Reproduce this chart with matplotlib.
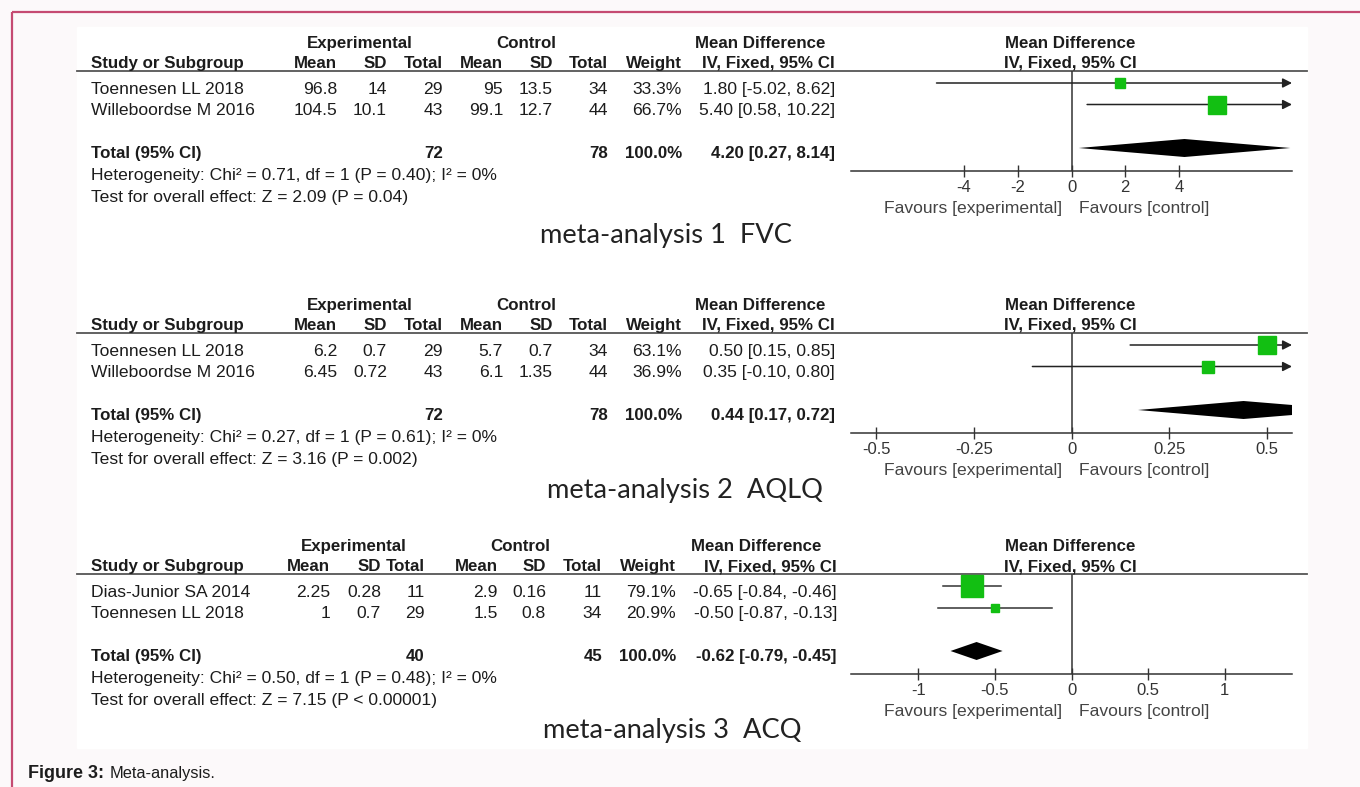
import matplotlib
matplotlib.use("Agg")
import matplotlib.pyplot as plt
from matplotlib.patches import Rectangle

plt.rcParams['axes.unicode_minus'] = False
plt.rcParams['font.family'] = ['Liberation Sans', 'DejaVu Sans']

# ---------------- data ----------------
titles = ["meta-analysis 1  FVC", "meta-analysis 2  AQLQ", "meta-analysis 3  ACQ"]

studies_1 = ["Toennesen LL 2018", "Willeboordse M 2016"]
exp_mean_1 = [96.8, 104.5]
exp_sd_1 = [14, 10.1]
exp_n_1 = [29, 43]
ctl_mean_1 = [95, 99.1]
ctl_sd_1 = [13.5, 12.7]
ctl_n_1 = [34, 44]
weight_1 = [33.3, 66.7]
md_1 = [1.80, 5.40]
lo_1 = [-5.02, 0.58]
hi_1 = [8.62, 10.22]
total_n_1 = [72, 78]
total_md_1 = [4.20, 0.27, 8.14]
het_1 = "Heterogeneity: Chi\u00b2 = 0.71, df = 1 (P = 0.40); I\u00b2 = 0%"
test_1 = "Test for overall effect: Z = 2.09 (P = 0.04)"
ticks_1 = [-4, -2, 0, 2, 4]
ticklabels_1 = ["-4", "-2", "0", "2", "4"]

studies_2 = ["Toennesen LL 2018", "Willeboordse M 2016"]
exp_mean_2 = [6.2, 6.45]
exp_sd_2 = [0.7, 0.72]
exp_n_2 = [29, 43]
ctl_mean_2 = [5.7, 6.1]
ctl_sd_2 = [0.7, 1.35]
ctl_n_2 = [34, 44]
weight_2 = [63.1, 36.9]
md_2 = [0.50, 0.35]
lo_2 = [0.15, -0.10]
hi_2 = [0.85, 0.80]
total_n_2 = [72, 78]
total_md_2 = [0.44, 0.17, 0.72]
het_2 = "Heterogeneity: Chi\u00b2 = 0.27, df = 1 (P = 0.61); I\u00b2 = 0%"
test_2 = "Test for overall effect: Z = 3.16 (P = 0.002)"
ticks_2 = [-0.5, -0.25, 0, 0.25, 0.5]
ticklabels_2 = ["-0.5", "-0.25", "0", "0.25", "0.5"]

studies_3 = ["Dias-Junior SA 2014", "Toennesen LL 2018"]
exp_mean_3 = [2.25, 1]
exp_sd_3 = [0.28, 0.7]
exp_n_3 = [11, 29]
ctl_mean_3 = [2.9, 1.5]
ctl_sd_3 = [0.16, 0.8]
ctl_n_3 = [11, 34]
weight_3 = [79.1, 20.9]
md_3 = [-0.65, -0.50]
lo_3 = [-0.84, -0.87]
hi_3 = [-0.46, -0.13]
total_n_3 = [40, 45]
total_md_3 = [-0.62, -0.79, -0.45]
het_3 = "Heterogeneity: Chi\u00b2 = 0.50, df = 1 (P = 0.48); I\u00b2 = 0%"
test_3 = "Test for overall effect: Z = 7.15 (P < 0.00001)"
ticks_3 = [-1, -0.5, 0, 0.5, 1]
ticklabels_3 = ["-1", "-0.5", "0", "0.5", "1"]

panels = [
    dict(studies=studies_1, em=exp_mean_1, es=exp_sd_1, en=exp_n_1, cm=ctl_mean_1, cs=ctl_sd_1,
         cn=ctl_n_1, w=weight_1, md=md_1, lo=lo_1, hi=hi_1, tn=total_n_1, tmd=total_md_1,
         het=het_1, test=test_1, ticks=ticks_1, tl=ticklabels_1),
    dict(studies=studies_2, em=exp_mean_2, es=exp_sd_2, en=exp_n_2, cm=ctl_mean_2, cs=ctl_sd_2,
         cn=ctl_n_2, w=weight_2, md=md_2, lo=lo_2, hi=hi_2, tn=total_n_2, tmd=total_md_2,
         het=het_2, test=test_2, ticks=ticks_2, tl=ticklabels_2),
    dict(studies=studies_3, em=exp_mean_3, es=exp_sd_3, en=exp_n_3, cm=ctl_mean_3, cs=ctl_sd_3,
         cn=ctl_n_3, w=weight_3, md=md_3, lo=lo_3, hi=hi_3, tn=total_n_3, tmd=total_md_3,
         het=het_3, test=test_3, ticks=ticks_3, tl=ticklabels_3),
]

# ---------------- layout (pixels) ----------------
W, H = 1360, 787
offsets = [0, 262, 503]
title_base = [243, 498, 738]
title_x = [540, 547, 543]
xlims = [8.2, 0.564, 1.44]
cols = [[337, 387, 443, 503, 553, 608, 682, 835],
        [337, 387, 443, 503, 553, 608, 682, 835],
        [330, 381, 425, 498, 546, 602, 676, 837]]
hdr_centers = [[360, 526, 760], [360, 526, 760], [354, 520, 756]]

TXT = '#1c1c1c'
GREEN = '#12bf12'
FS = 12.6
FSB = 12.2

fig = plt.figure(figsize=(W / 100, H / 100), dpi=100)
bg = fig.add_axes([0, 0, 1, 1])
bg.set_xlim(0, W)
bg.set_ylim(H, 0)
bg.axis('off')
bg.add_patch(Rectangle((0, 0), W, H, color='#fcf9fa', zorder=0))
bg.add_patch(Rectangle((77, 27), 1307 - 77, 748 - 27, color='white', zorder=0.5))
bg.plot([12, W + 5], [12, 12], color='#c54b72', lw=1.6, solid_capstyle='butt')
bg.plot([12, 12], [12, H + 5], color='#c54b72', lw=1.6, solid_capstyle='butt')


def T(x, y, s, ha='left', bold=False, size=None, color=TXT, **kw):
    bg.text(x, y, s, ha=ha, va='baseline', fontsize=size or (FSB if bold else FS),
            fontweight='bold' if bold else 'normal', color=color, **kw)


def fmt(v):
    return f"{v:g}"


for p, d in enumerate(panels):
    o = offsets[p]
    c = cols[p]
    hc = hdr_centers[p]
    # headers
    T(hc[0], 48 + o, "Experimental", ha='center', bold=True)
    T(hc[1], 48 + o, "Control", ha='center', bold=True)
    T(hc[2], 48 + o, "Mean Difference", ha='center', bold=True)
    T(1070, 48 + o, "Mean Difference", ha='center', bold=True)
    T(91, 68 + o, "Study or Subgroup", bold=True)
    for x, s in zip(c, ["Mean", "SD", "Total", "Mean", "SD", "Total", "Weight", "IV, Fixed, 95% CI"]):
        T(x, 68 + o, s, ha='right', bold=True)
    T(1070, 68 + o, "IV, Fixed, 95% CI", ha='center', bold=True)
    bg.plot([77, 1307], [71 + o, 71 + o], color='#555555', lw=1.3)

    # study rows
    row_base = [94, 115]
    for i, name in enumerate(d['studies']):
        yb = row_base[i] + o
        T(91, yb, name)
        vals = [fmt(d['em'][i]), fmt(d['es'][i]), fmt(d['en'][i]), fmt(d['cm'][i]),
                fmt(d['cs'][i]), fmt(d['cn'][i]), f"{d['w'][i]:.1f}%",
                f"{d['md'][i]:.2f} [{d['lo'][i]:.2f}, {d['hi'][i]:.2f}]"]
        for x, s in zip(c, vals):
            T(x, yb, s, ha='right')
    # total row
    T(91, 158 + o, "Total (95% CI)", bold=True)
    T(c[2], 158 + o, fmt(d['tn'][0]), ha='right', bold=True)
    T(c[5], 158 + o, fmt(d['tn'][1]), ha='right', bold=True)
    T(c[6], 158 + o, f"{sum(d['w']):.1f}%", ha='right', bold=True)
    tm, tl, th = d['tmd']
    T(c[7], 158 + o, f"{tm:.2f} [{tl:.2f}, {th:.2f}]", ha='right', bold=True)
    T(91, 180 + o, d['het'])
    T(91, 202 + o, d['test'])
    T(1062, 213 + o, "Favours [experimental]", ha='right', color='#444444')
    T(1079, 213 + o, "Favours [control]", ha='left', color='#444444')
    bg.text(title_x[p], title_base[p], titles[p], ha='left', va='baseline', fontsize=19.6,
            family=['Lato', 'DejaVu Sans'], color='#222222')

    # forest plot axes
    x0, x1, ytop, ybot = 851, 1292, 71 + o, 171 + o
    ax = fig.add_axes([x0 / W, 1 - ybot / H, (x1 - x0) / W, (ybot - ytop) / H])
    ax.set_facecolor('none')
    xm = xlims[p]
    ax.set_xlim(-xm, xm)
    ax.set_ylim(171, 71)
    for s in ['top', 'left', 'right']:
        ax.spines[s].set_visible(False)
    ax.spines['bottom'].set_color('#333333')
    ax.spines['bottom'].set_linewidth(1.1)
    ax.set_yticks([])
    ax.set_xticks(d['ticks'], d['tl'])
    ax.tick_params(axis='x', direction='inout', length=8, width=1.0, colors='#333333',
                   labelsize=12, pad=2.5)
    ax.axvline(0, color='#333333', lw=1.1, zorder=1)

    row_y = [83, 104.5]
    for i in range(len(d['md'])):
        y = row_y[i]
        lo, hi, md, w = d['lo'][i], d['hi'][i], d['md'][i], d['w'][i]
        if hi > xm:
            ax.annotate('', xy=(xm, y), xytext=(max(lo, -xm), y), annotation_clip=False,
                        arrowprops=dict(arrowstyle='-|>,head_length=0.55,head_width=0.28',
                                        lw=1.1, color='#222222', shrinkA=0, shrinkB=0))
        elif lo < -xm:
            ax.annotate('', xy=(-xm, y), xytext=(hi, y), annotation_clip=False,
                        arrowprops=dict(arrowstyle='-|>,head_length=0.55,head_width=0.28',
                                        lw=1.1, color='#222222', shrinkA=0, shrinkB=0))
        else:
            ax.plot([lo, hi], [y, y], color='#333333', lw=1.1, zorder=2)
        ax.plot(md, y, marker='s', ms=(2 + 0.25 * w) * 0.72, color=GREEN, mec=GREEN, zorder=3)
    ty = 148
    ax.fill([tl, tm, th, tm], [ty, ty - 9, ty, ty + 9], color='black', zorder=3, lw=0)

T(28, 778, "Figure 3:", bold=True, size=13)
T(110, 778, "Meta-analysis.", size=11.8)

fig.savefig("out.png", dpi=100)
